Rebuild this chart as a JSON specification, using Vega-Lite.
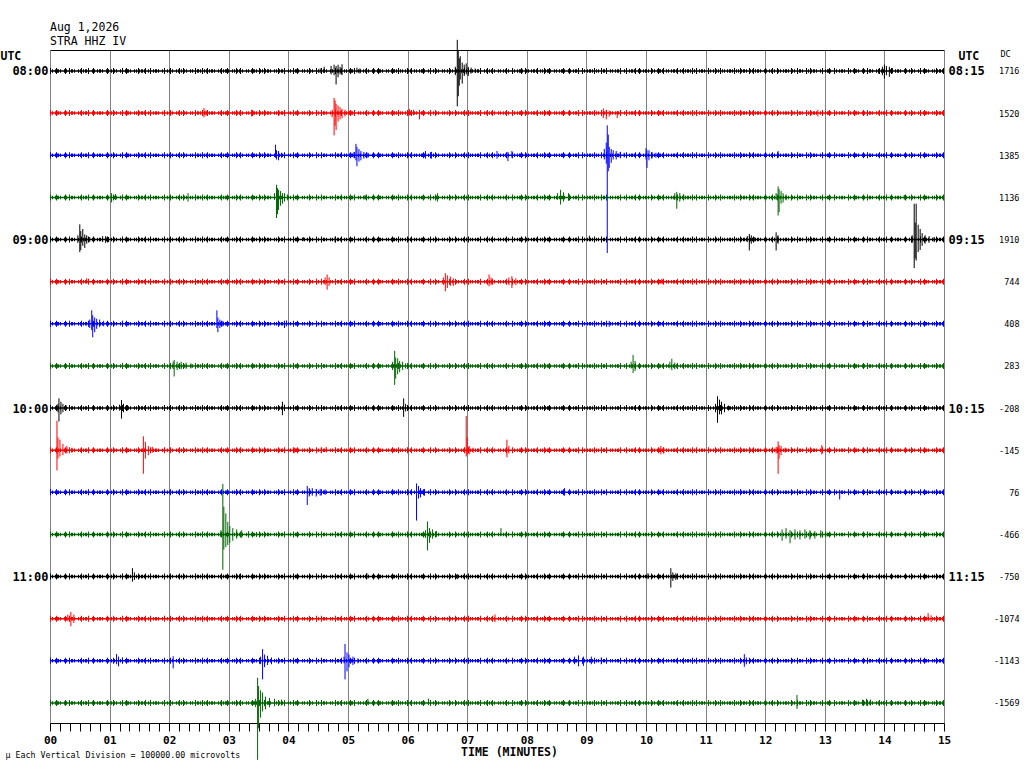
{
  "$schema": "https://vega.github.io/schema/vega-lite/v6.json",
  "description": "Helicorder of station STRA HHZ IV, 1 Aug 2026, 08:00-12:00 UTC, 15 minutes per line.",
  "width": 894,
  "height": 673,
  "autosize": "none",
  "padding": {"left": 50, "top": 50, "right": 80, "bottom": 45},
  "background": "white",
  "title": {
    "text": ["Aug 1,2026", "STRA HHZ IV"],
    "anchor": "start",
    "frame": "group",
    "font": "DejaVu Sans Mono",
    "fontSize": 11.5,
    "fontWeight": "normal",
    "lineHeight": 14,
    "offset": -8,
    "color": "black"
  },
  "config": {
    "view": {"stroke": null},
    "axis": {"labelFont": "DejaVu Sans Mono", "titleFont": "DejaVu Sans Mono", "labelColor": "black", "titleColor": "black"}
  },
  "datasets": {
    "traces": [
      {"trace": 0, "base": 0}, {"trace": 1, "base": -1}, {"trace": 2, "base": -2}, {"trace": 3, "base": -3},
      {"trace": 4, "base": -4}, {"trace": 5, "base": -5}, {"trace": 6, "base": -6}, {"trace": 7, "base": -7},
      {"trace": 8, "base": -8}, {"trace": 9, "base": -9}, {"trace": 10, "base": -10}, {"trace": 11, "base": -11},
      {"trace": 12, "base": -12}, {"trace": 13, "base": -13}, {"trace": 14, "base": -14}, {"trace": 15, "base": -15}
    ],
    "events": [
      {"trace":0,"t":272,"hi":0.06,"lo":-0.05},{"trace":0,"t":276,"hi":0.1,"lo":-0.05},{"trace":0,"t":283,"hi":0.12,"lo":-0.08},{"trace":0,"t":286,"hi":0.15,"lo":-0.1},{"trace":0,"t":288,"hi":0.12,"lo":-0.32},{"trace":0,"t":290,"hi":0.15,"lo":-0.15},{"trace":0,"t":292,"hi":0.1,"lo":-0.08},{"trace":0,"t":294,"hi":0.16,"lo":-0.1},{"trace":0,"t":309,"hi":0.08,"lo":-0.04},{"trace":0,"t":312,"hi":0.06,"lo":-0.06},
      {"trace":0,"t":408,"hi":0.1,"lo":-0.1},{"trace":0,"t":410,"hi":0.74,"lo":-0.84},{"trace":0,"t":411,"hi":0.5,"lo":-0.6},{"trace":0,"t":412,"hi":0.3,"lo":-0.35},{"trace":0,"t":413,"hi":0.35,"lo":-0.2},{"trace":0,"t":415,"hi":0.2,"lo":-0.3},{"trace":0,"t":417,"hi":0.15,"lo":-0.12},{"trace":0,"t":419,"hi":0.18,"lo":-0.08},{"trace":0,"t":421,"hi":0.1,"lo":-0.12},{"trace":0,"t":424,"hi":0.08,"lo":-0.06},{"trace":0,"t":428,"hi":0.06,"lo":-0.05},
      {"trace":0,"t":834,"hi":0.05,"lo":-0.06},{"trace":0,"t":838,"hi":0.1,"lo":-0.1},{"trace":0,"t":840,"hi":0.15,"lo":-0.18},{"trace":0,"t":842,"hi":0.12,"lo":-0.1},{"trace":0,"t":845,"hi":0.1,"lo":-0.14},{"trace":0,"t":848,"hi":0.07,"lo":-0.06},
      {"trace":1,"t":155,"hi":-0.88,"lo":-1.1},{"trace":1,"t":157,"hi":-0.94,"lo":-1.06},{"trace":1,"t":203,"hi":-0.92,"lo":-1.08},
      {"trace":1,"t":284,"hi":-0.92,"lo":-1.1},{"trace":1,"t":286,"hi":-0.64,"lo":-1.53},{"trace":1,"t":287,"hi":-0.7,"lo":-1.3},{"trace":1,"t":288,"hi":-0.78,"lo":-1.4},{"trace":1,"t":290,"hi":-0.82,"lo":-1.2},{"trace":1,"t":292,"hi":-0.86,"lo":-1.15},{"trace":1,"t":294,"hi":-0.9,"lo":-1.12},{"trace":1,"t":297,"hi":-0.92,"lo":-1.08},{"trace":1,"t":301,"hi":-0.94,"lo":-1.05},
      {"trace":1,"t":362,"hi":-0.9,"lo":-1.06},{"trace":1,"t":366,"hi":-0.92,"lo":-1.05},{"trace":1,"t":372,"hi":-0.92,"lo":-1.15},{"trace":1,"t":376,"hi":-0.94,"lo":-1.06},
      {"trace":1,"t":557,"hi":-0.89,"lo":-1.12},{"trace":1,"t":560,"hi":-0.92,"lo":-1.15},{"trace":1,"t":563,"hi":-0.94,"lo":-1.08},{"trace":1,"t":571,"hi":-0.95,"lo":-1.12},{"trace":1,"t":773,"hi":-0.92,"lo":-1.08},
      {"trace":2,"t":227,"hi":-1.75,"lo":-2.06},{"trace":2,"t":228,"hi":-1.88,"lo":-2.1},{"trace":2,"t":230,"hi":-1.9,"lo":-2.12},{"trace":2,"t":233,"hi":-1.94,"lo":-2.06},
      {"trace":2,"t":306,"hi":-1.92,"lo":-2.06},{"trace":2,"t":308,"hi":-1.73,"lo":-2.12},{"trace":2,"t":309,"hi":-1.8,"lo":-2.26},{"trace":2,"t":311,"hi":-1.85,"lo":-2.15},{"trace":2,"t":313,"hi":-1.9,"lo":-2.12},{"trace":2,"t":316,"hi":-1.92,"lo":-2.08},{"trace":2,"t":320,"hi":-1.94,"lo":-2.06},
      {"trace":2,"t":364,"hi":-1.94,"lo":-2.06},{"trace":2,"t":378,"hi":-1.9,"lo":-2.08},{"trace":2,"t":384,"hi":-1.92,"lo":-2.08},{"trace":2,"t":450,"hi":-1.9,"lo":-2.08},{"trace":2,"t":461,"hi":-1.92,"lo":-2.14},{"trace":2,"t":465,"hi":-1.9,"lo":-2.06},
      {"trace":2,"t":558,"hi":-1.85,"lo":-2.1},{"trace":2,"t":560,"hi":-1.7,"lo":-2.2},{"trace":2,"t":561,"hi":-1.29,"lo":-4.32},{"trace":2,"t":562,"hi":-1.51,"lo":-2.38},{"trace":2,"t":563,"hi":-1.8,"lo":-2.3},{"trace":2,"t":565,"hi":-1.85,"lo":-2.18},{"trace":2,"t":567,"hi":-1.88,"lo":-2.1},{"trace":2,"t":570,"hi":-1.9,"lo":-2.1},{"trace":2,"t":574,"hi":-1.92,"lo":-2.06},{"trace":2,"t":578,"hi":-1.94,"lo":-2.05},
      {"trace":2,"t":600,"hi":-1.83,"lo":-2.1},{"trace":2,"t":601,"hi":-1.88,"lo":-2.3},{"trace":2,"t":603,"hi":-1.88,"lo":-2.12},{"trace":2,"t":606,"hi":-1.92,"lo":-2.08},{"trace":2,"t":610,"hi":-1.94,"lo":-2.06},{"trace":2,"t":733,"hi":-1.9,"lo":-2.06},
      {"trace":3,"t":62,"hi":-2.9,"lo":-3.12},{"trace":3,"t":66,"hi":-2.92,"lo":-3.06},{"trace":3,"t":139,"hi":-2.9,"lo":-3.1},
      {"trace":3,"t":226,"hi":-2.9,"lo":-3.06},{"trace":3,"t":228,"hi":-2.7,"lo":-3.49},{"trace":3,"t":229,"hi":-2.78,"lo":-3.4},{"trace":3,"t":230,"hi":-2.82,"lo":-3.3},{"trace":3,"t":232,"hi":-2.85,"lo":-3.2},{"trace":3,"t":234,"hi":-2.9,"lo":-3.15},{"trace":3,"t":236,"hi":-2.9,"lo":-3.1},{"trace":3,"t":239,"hi":-2.93,"lo":-3.07},
      {"trace":3,"t":317,"hi":-2.94,"lo":-3.05},{"trace":3,"t":390,"hi":-2.9,"lo":-3.1},
      {"trace":3,"t":511,"hi":-2.9,"lo":-3.06},{"trace":3,"t":514,"hi":-2.82,"lo":-3.17},{"trace":3,"t":517,"hi":-2.88,"lo":-3.1},{"trace":3,"t":522,"hi":-2.9,"lo":-3.08},
      {"trace":3,"t":629,"hi":-2.9,"lo":-3.06},{"trace":3,"t":631,"hi":-2.87,"lo":-3.27},{"trace":3,"t":634,"hi":-2.9,"lo":-3.1},{"trace":3,"t":638,"hi":-2.93,"lo":-3.06},
      {"trace":3,"t":731,"hi":-2.9,"lo":-3.06},{"trace":3,"t":733,"hi":-2.74,"lo":-3.43},{"trace":3,"t":734,"hi":-2.8,"lo":-3.35},{"trace":3,"t":736,"hi":-2.85,"lo":-3.15},{"trace":3,"t":738,"hi":-2.9,"lo":-3.12},{"trace":3,"t":741,"hi":-2.93,"lo":-3.07},{"trace":3,"t":860,"hi":-2.94,"lo":-3.05},
      {"trace":4,"t":28,"hi":-3.9,"lo":-4.08},{"trace":4,"t":30,"hi":-3.64,"lo":-4.3},{"trace":4,"t":31,"hi":-3.8,"lo":-4.25},{"trace":4,"t":33,"hi":-3.75,"lo":-4.15},{"trace":4,"t":35,"hi":-3.88,"lo":-4.2},{"trace":4,"t":37,"hi":-3.9,"lo":-4.1},{"trace":4,"t":40,"hi":-3.94,"lo":-4.06},
      {"trace":4,"t":53,"hi":-3.92,"lo":-4.06},{"trace":4,"t":56,"hi":-3.92,"lo":-4.08},{"trace":4,"t":59,"hi":-3.94,"lo":-4.06},{"trace":4,"t":255,"hi":-3.94,"lo":-4.03},{"trace":4,"t":287,"hi":-3.93,"lo":-4.07},{"trace":4,"t":543,"hi":-3.91,"lo":-4.04},
      {"trace":4,"t":702,"hi":-3.92,"lo":-4.06},{"trace":4,"t":704,"hi":-3.87,"lo":-4.26},{"trace":4,"t":706,"hi":-3.9,"lo":-4.1},{"trace":4,"t":709,"hi":-3.94,"lo":-4.05},{"trace":4,"t":731,"hi":-3.83,"lo":-4.26},{"trace":4,"t":733,"hi":-3.9,"lo":-4.1},
      {"trace":4,"t":868,"hi":-3.9,"lo":-4.08},{"trace":4,"t":870,"hi":-3.15,"lo":-4.68},{"trace":4,"t":871,"hi":-3.6,"lo":-4.45},{"trace":4,"t":872,"hi":-3.15,"lo":-4.5},{"trace":4,"t":874,"hi":-3.65,"lo":-4.3},{"trace":4,"t":876,"hi":-3.75,"lo":-4.25},{"trace":4,"t":878,"hi":-3.85,"lo":-4.15},{"trace":4,"t":881,"hi":-3.9,"lo":-4.1},{"trace":4,"t":885,"hi":-3.92,"lo":-4.08},{"trace":4,"t":890,"hi":-3.94,"lo":-4.06},
      {"trace":5,"t":37,"hi":-4.92,"lo":-5.04},{"trace":5,"t":277,"hi":-4.9,"lo":-5.08},{"trace":5,"t":279,"hi":-4.83,"lo":-5.19},{"trace":5,"t":281,"hi":-4.9,"lo":-5.1},
      {"trace":5,"t":396,"hi":-4.9,"lo":-5.08},{"trace":5,"t":398,"hi":-4.8,"lo":-5.23},{"trace":5,"t":400,"hi":-4.85,"lo":-5.15},{"trace":5,"t":403,"hi":-4.88,"lo":-5.1},{"trace":5,"t":406,"hi":-4.92,"lo":-5.1},
      {"trace":5,"t":442,"hi":-4.83,"lo":-5.11},{"trace":5,"t":444,"hi":-4.9,"lo":-5.08},{"trace":5,"t":462,"hi":-4.9,"lo":-5.08},{"trace":5,"t":465,"hi":-4.87,"lo":-5.15},{"trace":5,"t":469,"hi":-4.92,"lo":-5.08},{"trace":5,"t":616,"hi":-4.93,"lo":-5.05},
      {"trace":6,"t":40,"hi":-5.9,"lo":-6.1},{"trace":6,"t":42,"hi":-5.68,"lo":-6.15},{"trace":6,"t":43,"hi":-5.8,"lo":-6.32},{"trace":6,"t":45,"hi":-5.85,"lo":-6.2},{"trace":6,"t":47,"hi":-5.88,"lo":-6.12},{"trace":6,"t":50,"hi":-5.9,"lo":-6.08},{"trace":6,"t":54,"hi":-5.93,"lo":-6.06},
      {"trace":6,"t":168,"hi":-5.68,"lo":-6.1},{"trace":6,"t":169,"hi":-5.85,"lo":-6.2},{"trace":6,"t":171,"hi":-5.9,"lo":-6.1},{"trace":6,"t":174,"hi":-5.93,"lo":-6.06},{"trace":6,"t":236,"hi":-5.94,"lo":-6.1},{"trace":6,"t":238,"hi":-5.92,"lo":-6.06},{"trace":6,"t":563,"hi":-5.93,"lo":-6.07},
      {"trace":7,"t":124,"hi":-6.9,"lo":-7.08},{"trace":7,"t":125,"hi":-6.86,"lo":-7.25},{"trace":7,"t":128,"hi":-6.9,"lo":-7.1},{"trace":7,"t":132,"hi":-6.9,"lo":-7.08},{"trace":7,"t":137,"hi":-6.92,"lo":-7.07},{"trace":7,"t":142,"hi":-6.94,"lo":-7.06},
      {"trace":7,"t":345,"hi":-6.9,"lo":-7.1},{"trace":7,"t":347,"hi":-6.64,"lo":-7.45},{"trace":7,"t":348,"hi":-6.8,"lo":-7.3},{"trace":7,"t":350,"hi":-6.82,"lo":-7.2},{"trace":7,"t":352,"hi":-6.88,"lo":-7.15},{"trace":7,"t":355,"hi":-6.9,"lo":-7.1},{"trace":7,"t":358,"hi":-6.94,"lo":-7.06},
      {"trace":7,"t":585,"hi":-6.9,"lo":-7.06},{"trace":7,"t":587,"hi":-6.74,"lo":-7.17},{"trace":7,"t":589,"hi":-6.88,"lo":-7.12},{"trace":7,"t":624,"hi":-6.9,"lo":-7.06},{"trace":7,"t":626,"hi":-6.83,"lo":-7.1},{"trace":7,"t":629,"hi":-6.92,"lo":-7.08},
      {"trace":8,"t":8,"hi":-7.9,"lo":-8.1},{"trace":8,"t":9,"hi":-7.77,"lo":-8.32},{"trace":8,"t":11,"hi":-7.85,"lo":-8.15},{"trace":8,"t":13,"hi":-7.9,"lo":-8.1},{"trace":8,"t":16,"hi":-7.93,"lo":-8.06},
      {"trace":8,"t":70,"hi":-7.92,"lo":-8.06},{"trace":8,"t":72,"hi":-7.81,"lo":-8.25},{"trace":8,"t":74,"hi":-7.9,"lo":-8.1},{"trace":8,"t":78,"hi":-7.93,"lo":-8.06},
      {"trace":8,"t":234,"hi":-7.85,"lo":-8.17},{"trace":8,"t":236,"hi":-7.92,"lo":-8.06},{"trace":8,"t":356,"hi":-7.77,"lo":-8.21},{"trace":8,"t":358,"hi":-7.9,"lo":-8.08},
      {"trace":8,"t":670,"hi":-7.9,"lo":-8.1},{"trace":8,"t":672,"hi":-7.72,"lo":-8.35},{"trace":8,"t":674,"hi":-7.8,"lo":-8.15},{"trace":8,"t":676,"hi":-7.85,"lo":-8.15},{"trace":8,"t":679,"hi":-7.9,"lo":-8.1},{"trace":8,"t":683,"hi":-7.94,"lo":-8.06},
      {"trace":9,"t":7,"hi":-8.3,"lo":-9.48},{"trace":9,"t":8,"hi":-8.7,"lo":-9.2},{"trace":9,"t":10,"hi":-8.75,"lo":-9.15},{"trace":9,"t":13,"hi":-8.85,"lo":-9.12},{"trace":9,"t":17,"hi":-8.9,"lo":-9.08},{"trace":9,"t":22,"hi":-8.94,"lo":-9.06},
      {"trace":9,"t":94,"hi":-8.67,"lo":-9.56},{"trace":9,"t":96,"hi":-8.8,"lo":-9.2},{"trace":9,"t":99,"hi":-8.9,"lo":-9.12},{"trace":9,"t":103,"hi":-8.92,"lo":-9.06},
      {"trace":9,"t":246,"hi":-8.94,"lo":-9.06},{"trace":9,"t":273,"hi":-8.94,"lo":-9.06},{"trace":9,"t":278,"hi":-8.92,"lo":-9.05},
      {"trace":9,"t":419,"hi":-8.19,"lo":-9.15},{"trace":9,"t":420,"hi":-8.7,"lo":-9.1},{"trace":9,"t":422,"hi":-8.9,"lo":-9.1},{"trace":9,"t":426,"hi":-8.94,"lo":-9.06},
      {"trace":9,"t":460,"hi":-8.75,"lo":-9.17},{"trace":9,"t":462,"hi":-8.9,"lo":-9.08},{"trace":9,"t":615,"hi":-8.9,"lo":-9.1},{"trace":9,"t":618,"hi":-8.94,"lo":-9.08},
      {"trace":9,"t":731,"hi":-8.92,"lo":-9.08},{"trace":9,"t":733,"hi":-8.79,"lo":-9.56},{"trace":9,"t":734,"hi":-8.88,"lo":-9.2},{"trace":9,"t":736,"hi":-8.9,"lo":-9.12},{"trace":9,"t":740,"hi":-8.94,"lo":-9.06},{"trace":9,"t":777,"hi":-8.88,"lo":-9.1},
      {"trace":10,"t":259,"hi":-9.85,"lo":-10.3},{"trace":10,"t":261,"hi":-9.9,"lo":-10.1},{"trace":10,"t":264,"hi":-9.9,"lo":-10.08},{"trace":10,"t":268,"hi":-9.92,"lo":-10.1},{"trace":10,"t":272,"hi":-9.92,"lo":-10.08},{"trace":10,"t":277,"hi":-9.93,"lo":-10.06},
      {"trace":10,"t":369,"hi":-9.79,"lo":-10.67},{"trace":10,"t":371,"hi":-9.85,"lo":-10.15},{"trace":10,"t":373,"hi":-9.9,"lo":-10.12},{"trace":10,"t":377,"hi":-9.92,"lo":-10.08},{"trace":10,"t":518,"hi":-9.9,"lo":-10.08},{"trace":10,"t":795,"hi":-9.94,"lo":-10.17},
      {"trace":11,"t":172,"hi":-10.9,"lo":-11.06},{"trace":11,"t":174,"hi":-9.8,"lo":-11.84},{"trace":11,"t":175,"hi":-10.34,"lo":-11.36},{"trace":11,"t":177,"hi":-10.5,"lo":-11.3},{"trace":11,"t":179,"hi":-10.7,"lo":-11.25},{"trace":11,"t":181,"hi":-10.8,"lo":-11.2},{"trace":11,"t":184,"hi":-10.85,"lo":-11.15},{"trace":11,"t":188,"hi":-10.88,"lo":-11.1},{"trace":11,"t":193,"hi":-10.9,"lo":-11.08},{"trace":11,"t":200,"hi":-10.92,"lo":-11.08},{"trace":11,"t":208,"hi":-10.94,"lo":-11.06},
      {"trace":11,"t":378,"hi":-10.9,"lo":-11.08},{"trace":11,"t":380,"hi":-10.69,"lo":-11.38},{"trace":11,"t":382,"hi":-10.85,"lo":-11.2},{"trace":11,"t":385,"hi":-10.88,"lo":-11.1},{"trace":11,"t":389,"hi":-10.92,"lo":-11.06},{"trace":11,"t":454,"hi":-10.85,"lo":-11.04},
      {"trace":11,"t":737,"hi":-10.88,"lo":-11.15},{"trace":11,"t":741,"hi":-10.85,"lo":-11.1},{"trace":11,"t":745,"hi":-10.9,"lo":-11.21},{"trace":11,"t":750,"hi":-10.88,"lo":-11.12},{"trace":11,"t":755,"hi":-10.9,"lo":-11.12},{"trace":11,"t":760,"hi":-10.88,"lo":-11.1},{"trace":11,"t":765,"hi":-10.9,"lo":-11.12},{"trace":11,"t":770,"hi":-10.92,"lo":-11.1},{"trace":11,"t":776,"hi":-10.9,"lo":-11.08},{"trace":11,"t":781,"hi":-10.93,"lo":-11.07},
      {"trace":12,"t":83,"hi":-11.8,"lo":-12.12},{"trace":12,"t":85,"hi":-11.9,"lo":-12.08},{"trace":12,"t":191,"hi":-11.94,"lo":-12.06},{"trace":12,"t":319,"hi":-11.92,"lo":-12.06},{"trace":12,"t":410,"hi":-11.94,"lo":-12.06},{"trace":12,"t":602,"hi":-11.92,"lo":-12.06},{"trace":12,"t":625,"hi":-11.8,"lo":-12.26},{"trace":12,"t":627,"hi":-11.9,"lo":-12.1},{"trace":12,"t":630,"hi":-11.92,"lo":-12.08},
      {"trace":13,"t":18,"hi":-12.9,"lo":-13.06},{"trace":13,"t":21,"hi":-12.84,"lo":-13.18},{"trace":13,"t":24,"hi":-12.9,"lo":-13.1},{"trace":13,"t":448,"hi":-12.9,"lo":-13.08},{"trace":13,"t":884,"hi":-12.87,"lo":-13.05},{"trace":13,"t":887,"hi":-12.92,"lo":-13.08},
      {"trace":14,"t":67,"hi":-13.84,"lo":-14.08},{"trace":14,"t":69,"hi":-13.9,"lo":-14.13},{"trace":14,"t":73,"hi":-13.92,"lo":-14.06},{"trace":14,"t":124,"hi":-13.89,"lo":-14.18},
      {"trace":14,"t":212,"hi":-13.9,"lo":-14.08},{"trace":14,"t":214,"hi":-13.72,"lo":-14.44},{"trace":14,"t":216,"hi":-13.85,"lo":-14.15},{"trace":14,"t":219,"hi":-13.88,"lo":-14.1},{"trace":14,"t":223,"hi":-13.92,"lo":-14.08},
      {"trace":14,"t":296,"hi":-13.9,"lo":-14.06},{"trace":14,"t":297,"hi":-13.6,"lo":-14.44},{"trace":14,"t":299,"hi":-13.8,"lo":-14.25},{"trace":14,"t":301,"hi":-13.85,"lo":-14.15},{"trace":14,"t":305,"hi":-13.9,"lo":-14.1},{"trace":14,"t":310,"hi":-13.94,"lo":-14.06},
      {"trace":14,"t":528,"hi":-13.9,"lo":-14.08},{"trace":14,"t":532,"hi":-13.87,"lo":-14.13},{"trace":14,"t":537,"hi":-13.9,"lo":-14.12},{"trace":14,"t":545,"hi":-13.9,"lo":-14.08},{"trace":14,"t":555,"hi":-13.92,"lo":-14.08},{"trace":14,"t":699,"hi":-13.84,"lo":-14.14},{"trace":14,"t":701,"hi":-13.92,"lo":-14.08},
      {"trace":15,"t":207,"hi":-14.9,"lo":-15.1},{"trace":15,"t":209,"hi":-14.4,"lo":-16.35},{"trace":15,"t":210,"hi":-14.6,"lo":-15.6},{"trace":15,"t":212,"hi":-14.7,"lo":-15.35},{"trace":15,"t":214,"hi":-14.75,"lo":-15.2},{"trace":15,"t":217,"hi":-14.85,"lo":-15.15},{"trace":15,"t":221,"hi":-14.88,"lo":-15.1},{"trace":15,"t":226,"hi":-14.9,"lo":-15.08},{"trace":15,"t":233,"hi":-14.92,"lo":-15.06},
      {"trace":15,"t":320,"hi":-14.9,"lo":-15.04},{"trace":15,"t":381,"hi":-14.9,"lo":-15.05},{"trace":15,"t":752,"hi":-14.81,"lo":-15.14},{"trace":15,"t":818,"hi":-14.92,"lo":-15.06},{"trace":15,"t":822,"hi":-14.9,"lo":-15.06},{"trace":15,"t":826,"hi":-14.92,"lo":-15.06}
    ]
  },
  "resolve": {"axis": {"x": "independent", "y": "independent"}},
  "layer": [
    {
      "data": {"name": "traces"},
      "mark": {"type": "rule", "strokeWidth": 1.5},
      "encoding": {
        "x": {
          "datum": 0, "type": "quantitative",
          "scale": {"domain": [0, 900], "nice": false, "zero": false},
          "axis": {
            "orient": "bottom", "tickCount": 90, "labelOverlap": false, "labelFlush": false,
            "labelExpr": "datum.value % 60 === 0 ? (datum.value < 600 ? '0' : '') + (datum.value / 60) : ''",
            "labelFontSize": 11, "labelFontWeight": "bold", "labelPadding": 3,
            "tickSize": 8, "tickColor": "black", "domainColor": "black", "grid": false,
            "title": "TIME (MINUTES)", "titleFontSize": 11.5, "titleFontWeight": "bold",
            "titleX": 459, "titleY": 29, "titleBaseline": "middle"
          }
        },
        "x2": {"datum": 900},
        "y": {
          "field": "base", "type": "quantitative",
          "scale": {"domain": [-15.475, 0.498], "nice": false, "zero": false},
          "axis": {
            "orient": "left", "values": [0, -4, -8, -12],
            "labelExpr": "['08:00','09:00','10:00','11:00'][-datum.value / 4]",
            "ticks": false, "domain": false, "grid": false, "labelPadding": 2,
            "labelFontSize": 12, "labelFontWeight": "bold", "labelBaseline": "middle",
            "title": "UTC", "titleAngle": 0, "titleAlign": "left", "titleBaseline": "middle",
            "titleX": -50, "titleY": 6, "titleFontSize": 11.5, "titleFontWeight": "bold"
          }
        },
        "color": {
          "field": "trace", "type": "nominal", "legend": null,
          "scale": {
            "domain": [0, 1, 2, 3, 4, 5, 6, 7, 8, 9, 10, 11, 12, 13, 14, 15],
            "range": ["#000000", "#ff0000", "#0000ff", "#006400", "#000000", "#ff0000", "#0000ff", "#006400",
                      "#000000", "#ff0000", "#0000ff", "#006400", "#000000", "#ff0000", "#0000ff", "#006400"]
          }
        }
      }
    },
    {
      "data": {"name": "traces"},
      "mark": {"type": "rule", "strokeWidth": 3.5, "strokeDash": [1, 1, 1, 2, 1, 1, 2, 1, 1, 3]},
      "encoding": {
        "x": {
          "datum": 0, "type": "quantitative",
          "axis": {
            "orient": "top", "values": [0, 60, 120, 180, 240, 300, 360, 420, 480, 540, 600, 660, 720, 780, 840, 900],
            "grid": true, "gridColor": "#808080", "gridWidth": 1, "gridOpacity": 1,
            "ticks": false, "labels": false, "domain": true, "domainColor": "black", "title": null
          }
        },
        "x2": {"datum": 900},
        "y": {
          "field": "base", "type": "quantitative",
          "axis": {
            "orient": "right", "values": [0, -4, -8, -12],
            "labelExpr": "['08:15','09:15','10:15','11:15'][-datum.value / 4]",
            "ticks": false, "domain": false, "grid": false, "labelPadding": 4,
            "labelFontSize": 12, "labelFontWeight": "bold", "labelBaseline": "middle",
            "title": "UTC", "titleAngle": 0, "titleAlign": "left", "titleBaseline": "middle",
            "titleX": 14, "titleY": 6, "titleFontSize": 11.5, "titleFontWeight": "bold"
          }
        },
        "color": {"field": "trace", "type": "nominal", "legend": null}
      }
    },
    {
      "data": {"name": "traces"},
      "mark": {"type": "rule", "strokeWidth": 6, "strokeDash": [1, 5, 1, 8, 1, 3, 1, 11, 1, 6, 1, 4, 1, 13]},
      "encoding": {
        "x": {
          "datum": 0, "type": "quantitative",
          "axis": {
            "orient": "bottom", "labels": false, "ticks": false, "domain": false, "grid": false,
            "title": "µ  Each Vertical Division = 100000.00 microvolts",
            "titleFontSize": 8.3, "titleFontWeight": "normal", "titleAlign": "left",
            "titleBaseline": "middle", "titleX": -45, "titleY": 32
          }
        },
        "x2": {"datum": 900},
        "y": {
          "field": "base", "type": "quantitative",
          "axis": {
            "orient": "right", "offset": 75,
            "values": [0, -1, -2, -3, -4, -5, -6, -7, -8, -9, -10, -11, -12, -13, -14, -15],
            "labelExpr": "['1716','1520','1385','1136','1910','744','408','283','-208','-145','76','-466','-750','-1074','-1143','-1569'][-datum.value]",
            "ticks": false, "domain": false, "grid": false, "labelPadding": 0,
            "labelAlign": "right", "labelBaseline": "middle", "labelFontSize": 8.5,
            "title": "DC", "titleAngle": 0, "titleAlign": "left", "titleBaseline": "middle",
            "titleX": -19, "titleY": 3, "titleFontSize": 8.5, "titleFontWeight": "normal"
          }
        },
        "color": {"field": "trace", "type": "nominal", "legend": null}
      }
    },
    {
      "data": {"name": "events"},
      "mark": {"type": "rule", "strokeWidth": 1},
      "encoding": {
        "x": {"field": "t", "type": "quantitative", "axis": null},
        "y": {"field": "hi", "type": "quantitative", "axis": null},
        "y2": {"field": "lo"},
        "color": {"field": "trace", "type": "nominal", "legend": null}
      }
    }
  ]
}
